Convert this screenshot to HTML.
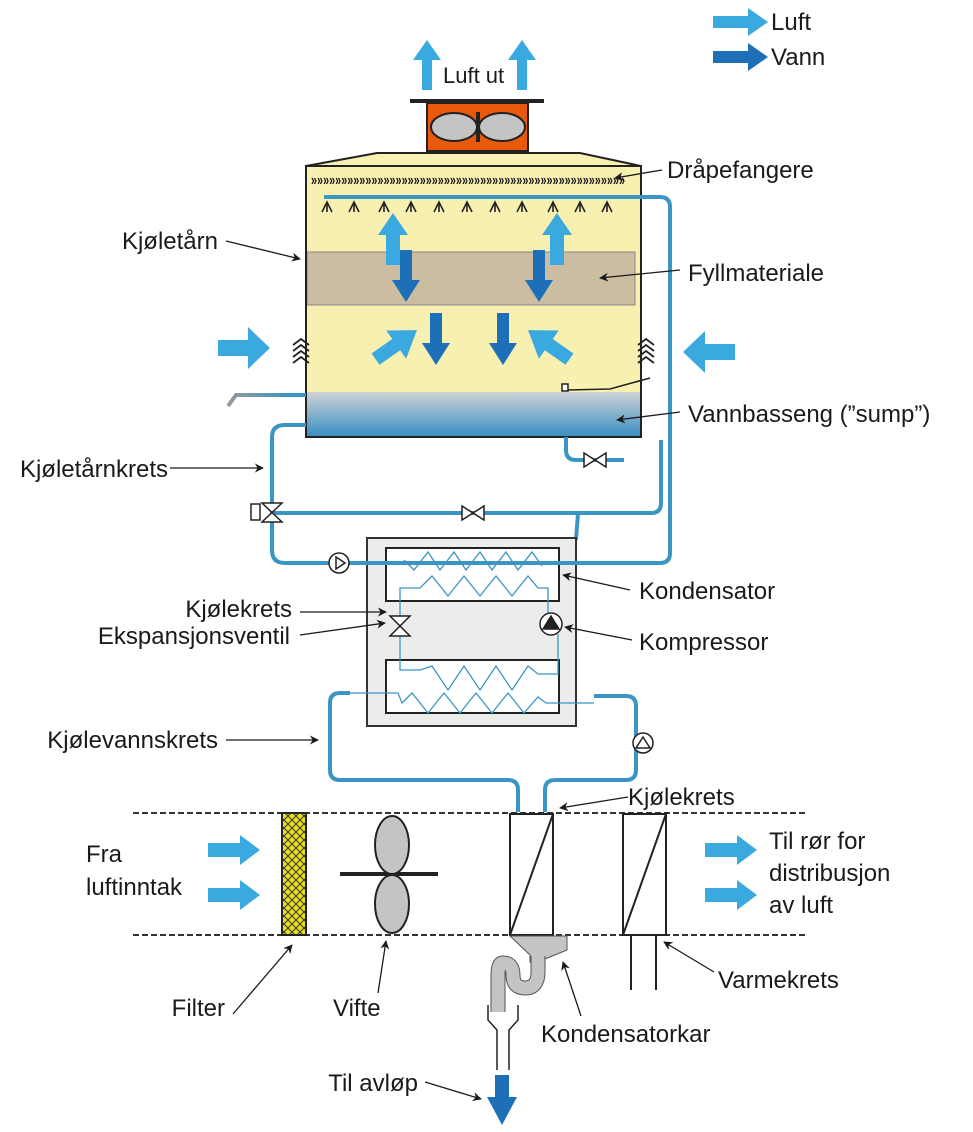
<!DOCTYPE html>
<html><head><meta charset="utf-8"><style>
body{margin:0;background:#fff}
text{font-family:"Liberation Sans",sans-serif;font-size:24px;fill:#1a1a1a}
</style></head><body>
<svg width="973" height="1127" viewBox="0 0 973 1127" xmlns="http://www.w3.org/2000/svg">
<defs>
<marker id="ah" viewBox="0 0 10 10" refX="9" refY="5" markerWidth="9" markerHeight="9" orient="auto-start-reverse" markerUnits="userSpaceOnUse"><path d="M0,0 L10,5 L0,10 L3,5z" fill="#1a1a1a"/></marker>
<linearGradient id="sump" x1="0" y1="0" x2="0" y2="1"><stop offset="0" stop-color="#cfd3d6"/><stop offset="1" stop-color="#3a8fc2"/></linearGradient>
<linearGradient id="ovf" x1="0" y1="0" x2="1" y2="0"><stop offset="0" stop-color="#999"/><stop offset="1" stop-color="#3a95c4"/></linearGradient>
<pattern id="hatch" width="8" height="8" patternUnits="userSpaceOnUse"><path d="M0,0 L8,8 M8,0 L0,8" stroke="#333" stroke-width="1"/></pattern>
<path id="arr" d="M-26,-6 h22 v-9 l22,15 l-22,15 v-9 h-22z"/>
</defs>

<!-- legend -->
<path d="M713,16 h35 v-8 l20,14 l-20,14 v-8 h-35z" fill="#3aa9e0"/>
<path d="M713,51 h35 v-8 l20,14 l-20,14 v-8 h-35z" fill="#1d70b8"/>
<text x="771" y="30">Luft</text><text x="771" y="65">Vann</text>

<!-- air out arrows -->
<path d="M422,90 v-30 h-9 l14,-20 l14,20 h-9 v30z" fill="#3aa9e0"/>
<path d="M517,90 v-30 h-9 l14,-20 l14,20 h-9 v30z" fill="#3aa9e0"/>
<text x="443" y="83" style="font-size:22px">Luft ut</text>

<!-- fan box -->
<rect x="410" y="99" width="134" height="4" fill="#222"/>
<rect x="427" y="103" width="101" height="48" fill="#e8590c" stroke="#222" stroke-width="2"/>
<ellipse cx="454" cy="127" rx="23" ry="14" fill="#c4c4c4" stroke="#222" stroke-width="2"/>
<ellipse cx="502" cy="127" rx="23" ry="14" fill="#c4c4c4" stroke="#222" stroke-width="2"/>
<rect x="476" y="112" width="4" height="30" fill="#222"/>

<!-- tower -->
<path d="M306,166 L377,153 L580,153 L641,166 L641,437 L306,437z" fill="#f8f0b0" stroke="#222" stroke-width="2"/>
<rect x="307" y="392" width="333" height="44" fill="url(#sump)"/>
<rect x="307" y="252" width="328" height="53" fill="#cbbca2" stroke="#888" stroke-width="1"/>
<text x="311" y="185" textLength="314" lengthAdjust="spacingAndGlyphs" style="font-size:16px;font-weight:bold">»»»»»»»»»»»»»»»»»»»»»»»»»»»»»»»»»»»»»»»»»»»»»»»»»»»»</text>
<rect x="306" y="166" width="335" height="271" fill="none" stroke="#222" stroke-width="2"/>

<!-- pipes -->
<g fill="none" stroke="#3a95c4" stroke-width="4">
<path d="M324,197 H660 Q670,197 670,207 V553 Q670,563 660,563 H285 Q272,563 272,550 V437 Q272,425 285,425 H306"/>
<path d="M661,440 V503 Q661,513 651,513 H272"/>
<path d="M578,513 L576,540"/>
<path d="M306,395 H236"/>
<path d="M566,437 V450 Q566,460 576,460 H624"/>
<path d="M350,693 H340 Q330,693 330,703 V770 Q330,780 340,780 H508 Q518,780 518,790 V812"/>
<path d="M594,696 H626 Q636,696 636,706 V770 Q636,780 626,780 H555 Q545,780 545,790 V812"/>
</g>
<path d="M228,406 L236,395 H290" fill="none" stroke="url(#ovf)" stroke-width="4"/>

<!-- nozzles -->
<g fill="none" stroke="#222" stroke-width="1.6">
<path d="M322,212 l5,-10 l5,10 M327,202 v10 M349,212 l5,-10 l5,10 M354,202 v10 M379,212 l5,-10 l5,10 M384,202 v10 M406,212 l5,-10 l5,10 M411,202 v10 M434,212 l5,-10 l5,10 M439,202 v10 M462,212 l5,-10 l5,10 M467,202 v10 M490,212 l5,-10 l5,10 M495,202 v10 M517,212 l5,-10 l5,10 M522,202 v10 M548,212 l5,-10 l5,10 M553,202 v10 M575,212 l5,-10 l5,10 M580,202 v10 M602,212 l5,-10 l5,10 M607,202 v10"/>
<path d="M293,345 l8,-6 l8,6 M293,351 l8,-6 l8,6 M293,357 l8,-6 l8,6 M293,363 l8,-6 l8,6" stroke-width="1.8"/>
<path d="M638,345 l8,-6 l8,6 M638,351 l8,-6 l8,6 M638,357 l8,-6 l8,6 M638,363 l8,-6 l8,6" stroke-width="1.8"/>
<path d="M567,390 L610,389 L650,378"/>
</g>
<rect x="562" y="384" width="6" height="7" fill="#fff" stroke="#222" stroke-width="1.5"/>

<!-- arrows in tower -->
<g fill="#3aa9e0">
<path d="M386,265 v-30 h-8 l15,-22 l15,22 h-8 v30z"/>
<path d="M550,265 v-30 h-8 l15,-22 l15,22 h-8 v30z"/>
<path d="M218,340 h30 v-13 l22,21 l-22,21 v-13 h-30z"/>
<path d="M735,344 h-30 v-13 l-22,21 l22,21 v-13 h30z"/>
<use href="#arr" transform="translate(400,342) rotate(-35) scale(1.15)"/>
<use href="#arr" transform="translate(545,342) rotate(-145) scale(1.15)"/>
</g>
<g fill="#1d70b8">
<path d="M400,250 v30 h-8 l14,22 l14,-22 h-8 v-30z"/>
<path d="M533,250 v30 h-8 l14,22 l14,-22 h-8 v-30z"/>
<path d="M430,313 v30 h-8 l14,22 l14,-22 h-8 v-30z"/>
<path d="M497,313 v30 h-8 l14,22 l14,-22 h-8 v-30z"/>
<path d="M495,1075 v22 h-8 l15,28 l15,-28 h-8 v-22z"/>
</g>

<!-- valves -->
<g fill="#fff" stroke="#222" stroke-width="1.5">
<path d="M584,453 l22,14 v-14 l-22,14z"/>
<path d="M462,506 l22,14 v-14 l-22,14z"/>
<path d="M262,503 h20 l-20,19 h20z"/>
<rect x="251" y="504" width="9" height="16"/>
</g>

<!-- condenser box -->
<rect x="367" y="538" width="209" height="188" fill="#ececec" stroke="#333" stroke-width="2"/>
<rect x="386" y="548" width="173" height="53" fill="#fff" stroke="#222" stroke-width="2"/>
<rect x="386" y="660" width="173" height="53" fill="#fff" stroke="#222" stroke-width="2"/>
<path d="M308,563 H660" stroke="#3a95c4" stroke-width="4"/>
<g fill="#fff" stroke="#222" stroke-width="1.5">
<circle cx="339" cy="563" r="10"/>
<path d="M336,557 l9,6 l-9,6z"/>
</g>
<g fill="none" stroke="#3a95c4" stroke-width="1.3">
<path d="M404,560 l10,10 l14,-18 l12,18 l14,-18 l12,18 l14,-18 l12,18 l14,-18 l12,18 l14,-18 l10,14"/>
<path d="M400,618 V588 h20 l12,-12 l16,20 l16,-20 l16,20 l16,-20 l16,20 l16,-20 l10,12 h10 v26"/>
<path d="M400,634 V670 h20 l12,-4 l16,24 l16,-24 l16,24 l16,-24 l16,24 l16,-24 l10,8 h20 V634"/>
<path d="M350,693 H398 l4,10 l10,-10 l16,20 l16,-20 l16,20 l16,-20 l16,20 l16,-20 l16,20 l14,-16 l8,6 H594"/>
</g>
<g stroke="#222" stroke-width="1.5">
<path d="M390,616 h20 l-20,20 h20z" fill="#fff"/>
<circle cx="551" cy="624" r="11" fill="#fff"/>
<path d="M543,629 l8,-13 l8,13z" fill="#222"/>
<circle cx="643" cy="743" r="10" fill="#fff"/>
<path d="M636,748 l7,-11 l7,11z" fill="#fff"/>
</g>

<!-- duct -->
<g stroke="#333" stroke-width="2" stroke-dasharray="6,3"><path d="M133,813 H805 M133,935 H805"/></g>
<rect x="282" y="813" width="24" height="122" fill="#e6e01a" stroke="#222" stroke-width="2"/>
<rect x="282" y="813" width="24" height="122" fill="url(#hatch)"/>
<path d="M340,874 H438" stroke="#222" stroke-width="4"/>
<ellipse cx="392" cy="845" rx="17" ry="29" fill="#c4c4c4" stroke="#222" stroke-width="2"/>
<ellipse cx="392" cy="904" rx="17" ry="29" fill="#c4c4c4" stroke="#222" stroke-width="2"/>
<g fill="none" stroke="#222" stroke-width="2">
<rect x="510" y="814" width="43" height="121" fill="#fff"/><path d="M510,935 L553,814"/>
<rect x="623" y="814" width="43" height="121" fill="#fff"/><path d="M623,935 L666,814"/>
<path d="M631,935 V990 M656,935 V990"/>
</g>
<!-- drain pan + trap -->
<path d="M510,936 H567 V950 L545,959 V962 H530 V955 Z" fill="#c4c4c4" stroke="#555" stroke-width="1"/>
<path d="M538,956 V972 Q538,988 525,988 Q513,988 513,975 Q513,963 503,963 Q498,963 498,975 V1012" fill="none" stroke="#555" stroke-width="15"/>
<path d="M538,956 V972 Q538,988 525,988 Q513,988 513,975 Q513,963 503,963 Q498,963 498,975 V1012" fill="none" stroke="#c4c4c4" stroke-width="13"/>
<path d="M488,1005 V1020 L497,1030 V1070 M518,1005 V1020 L509,1030 V1070" fill="none" stroke="#222" stroke-width="1.5"/>

<!-- duct arrows -->
<g fill="#3aa9e0">
<path d="M208,843 h32 v-8 l20,15 l-20,15 v-8 h-32z"/>
<path d="M208,888 h32 v-8 l20,15 l-20,15 v-8 h-32z"/>
<path d="M705,843 h32 v-8 l20,15 l-20,15 v-8 h-32z"/>
<path d="M705,888 h32 v-8 l20,15 l-20,15 v-8 h-32z"/>
</g>

<!-- leader lines -->
<g stroke="#1a1a1a" stroke-width="1.3" fill="none" marker-end="url(#ah)">
<path d="M662,170 L615,178"/>
<path d="M226,241 L300,259"/>
<path d="M680,270 L600,278"/>
<path d="M680,412 L617,420"/>
<path d="M170,468 L263,468"/>
<path d="M300,612 L386,612"/>
<path d="M300,635 L385,623"/>
<path d="M630,590 L563,575"/>
<path d="M632,640 L565,627"/>
<path d="M226,740 L318,740"/>
<path d="M628,797 L560,808"/>
<path d="M233,1014 L292,945"/>
<path d="M378,993 L386,941"/>
<path d="M581,1016 L563,962"/>
<path d="M714,972 L664,942"/>
<path d="M425,1082 L481,1099"/>
</g>

<!-- labels -->
<text x="667" y="178">Dråpefangere</text>
<text x="218" y="249" text-anchor="end">Kjøletårn</text>
<text x="688" y="281">Fyllmateriale</text>
<text x="688" y="422">Vannbasseng (”sump”)</text>
<text x="168" y="477" text-anchor="end">Kjøletårnkrets</text>
<text x="292" y="617" text-anchor="end">Kjølekrets</text>
<text x="290" y="644" text-anchor="end">Ekspansjonsventil</text>
<text x="639" y="599">Kondensator</text>
<text x="639" y="650">Kompressor</text>
<text x="218" y="748" text-anchor="end">Kjølevannskrets</text>
<text x="628" y="805">Kjølekrets</text>
<text x="86" y="862">Fra</text>
<text x="86" y="895">luftinntak</text>
<text x="769" y="849">Til rør for</text>
<text x="769" y="881">distribusjon</text>
<text x="769" y="913">av luft</text>
<text x="225" y="1016" text-anchor="end">Filter</text>
<text x="333" y="1016">Vifte</text>
<text x="541" y="1042">Kondensatorkar</text>
<text x="718" y="988">Varmekrets</text>
<text x="418" y="1091" text-anchor="end">Til avløp</text>
</svg>
</body></html>
